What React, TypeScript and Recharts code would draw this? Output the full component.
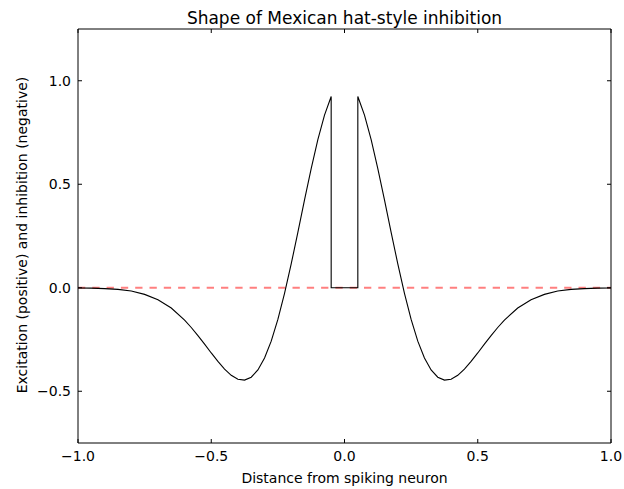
import React from 'react';
import { LineChart, Line, XAxis, YAxis, ReferenceLine } from 'recharts';

// Distance from the spiking neuron (duplicate x at +/-0.05 gives the vertical drop to the flat centre)
const distance = [
  -1.0, -0.95, -0.9, -0.85, -0.8, -0.75, -0.7, -0.65, -0.6, -0.575, -0.55, -0.525,
  -0.5, -0.475, -0.45, -0.425, -0.4, -0.375, -0.35, -0.325, -0.3, -0.275, -0.25,
  -0.225, -0.2, -0.175, -0.15, -0.125, -0.1, -0.075, -0.05, -0.05,
  0.05, 0.05, 0.075, 0.1, 0.125, 0.15, 0.175, 0.2, 0.225, 0.25, 0.275, 0.3, 0.325,
  0.35, 0.375, 0.4, 0.425, 0.45, 0.475, 0.5, 0.525, 0.55, 0.575, 0.6, 0.65, 0.7,
  0.75, 0.8, 0.85, 0.9, 0.95, 1.0,
];

// Excitation (positive) / inhibition (negative)
const strength = [
  -0.001, -0.002, -0.004, -0.008, -0.016, -0.032, -0.058, -0.098, -0.156, -0.192,
  -0.231, -0.272, -0.315, -0.356, -0.393, -0.423, -0.442, -0.446, -0.432, -0.397,
  -0.339, -0.258, -0.153, -0.027, 0.115, 0.268, 0.424, 0.576, 0.716, 0.834, 0.924,
  0.0,
  0.0, 0.924, 0.834, 0.716, 0.576, 0.424, 0.268, 0.115, -0.027, -0.153, -0.258,
  -0.339, -0.397, -0.432, -0.446, -0.442, -0.423, -0.393, -0.356, -0.315, -0.272,
  -0.231, -0.192, -0.156, -0.098, -0.058, -0.032, -0.016, -0.008, -0.004, -0.002,
  -0.001,
];

const xTicks = [-1.0, -0.5, 0.0, 0.5, 1.0];
const yTicks = [-0.5, 0.0, 0.5, 1.0];

const data = distance.map((d, i) => ({ distance: d, strength: strength[i] }));

const FONT = '"DejaVu Sans", sans-serif';
const GAP = 7;
const TICK_LEN = 4;

const fmt = (v: number) => {
  const s = Math.abs(v).toFixed(1);
  return v < 0 ? `\u2212${s}` : s;
};

const BottomTick = ({ x, y, payload }: any) => (
  <g>
    <line x1={x} x2={x} y1={y - GAP} y2={y - GAP - TICK_LEN} stroke="#000" />
    <text x={x} y={y} dy="0.78em" textAnchor="middle" fontSize={14} fontFamily={FONT} fill="#000">
      {fmt(payload.value)}
    </text>
  </g>
);

const TopTick = ({ x, y }: any) => (
  <line x1={x} x2={x} y1={y + GAP} y2={y + GAP + TICK_LEN} stroke="#000" />
);

const LeftTick = ({ x, y, payload }: any) => (
  <g>
    <line x1={x + GAP} x2={x + GAP + TICK_LEN} y1={y} y2={y} stroke="#000" />
    <text x={x} y={y} dy="0.36em" textAnchor="end" fontSize={14} fontFamily={FONT} fill="#000">
      {fmt(payload.value)}
    </text>
  </g>
);

const RightTick = ({ x, y }: any) => (
  <line x1={x - GAP} x2={x - GAP - TICK_LEN} y1={y} y2={y} stroke="#000" />
);

export default function App() {
  return (
    <div style={{ position: 'absolute', left: 0, top: 0, width: 624, height: 489, background: '#fff', fontFamily: FONT }}>
      <div
        style={{
          position: 'absolute', left: 0, width: 689, top: 8, textAlign: 'center',
          fontSize: 17, lineHeight: '20px', color: '#000',
        }}
      >
        Shape of Mexican hat-style inhibition
      </div>
      <LineChart
        width={624}
        height={489}
        data={data}
        margin={{ top: 28, right: 12, left: 0, bottom: 0 }}
      >
        <XAxis
          xAxisId="bottom"
          dataKey="distance"
          type="number"
          domain={[-1, 1]}
          ticks={xTicks}
          height={46}
          tickSize={0}
          tickMargin={GAP}
          tick={<BottomTick />}
          axisLine={{ stroke: '#000' }}
          allowDataOverflow
        />
        <XAxis
          xAxisId="top"
          orientation="top"
          dataKey="distance"
          type="number"
          domain={[-1, 1]}
          ticks={xTicks}
          height={1}
          tickSize={0}
          tickMargin={GAP}
          tick={<TopTick />}
          axisLine={{ stroke: '#000' }}
          allowDataOverflow
        />
        <YAxis
          yAxisId="left"
          type="number"
          domain={[-0.75, 1.25]}
          ticks={yTicks}
          width={78}
          tickSize={0}
          tickMargin={GAP}
          tick={<LeftTick />}
          axisLine={{ stroke: '#000' }}
          allowDataOverflow
        />
        <YAxis
          yAxisId="right"
          orientation="right"
          type="number"
          domain={[-0.75, 1.25]}
          ticks={yTicks}
          width={1}
          tickSize={0}
          tickMargin={GAP}
          tick={<RightTick />}
          axisLine={{ stroke: '#000' }}
          allowDataOverflow
        />
        <ReferenceLine
          xAxisId="bottom"
          yAxisId="left"
          y={0}
          stroke="#ff0000"
          strokeOpacity={0.5}
          strokeWidth={2}
          strokeDasharray="7.3 7"
        />
        <Line
          xAxisId="bottom"
          yAxisId="left"
          dataKey="strength"
          type="linear"
          stroke="#000"
          strokeWidth={1.1}
          dot={false}
          isAnimationActive={false}
        />
      </LineChart>
      <div
        style={{
          position: 'absolute', left: 0, width: 689, top: 469, textAlign: 'center',
          fontSize: 14, lineHeight: '18px', color: '#000',
        }}
      >
        Distance from spiking neuron
      </div>
      <div
        style={{
          position: 'absolute', left: 22, top: 235, width: 0, height: 0,
        }}
      >
        <div
          style={{
            position: 'absolute', left: 0, top: 0, transform: 'translate(-50%, -50%) rotate(-90deg)',
            whiteSpace: 'nowrap', fontSize: 14, lineHeight: '18px', color: '#000',
          }}
        >
          Excitation (positive) and inhibition (negative)
        </div>
      </div>
    </div>
  );
}
